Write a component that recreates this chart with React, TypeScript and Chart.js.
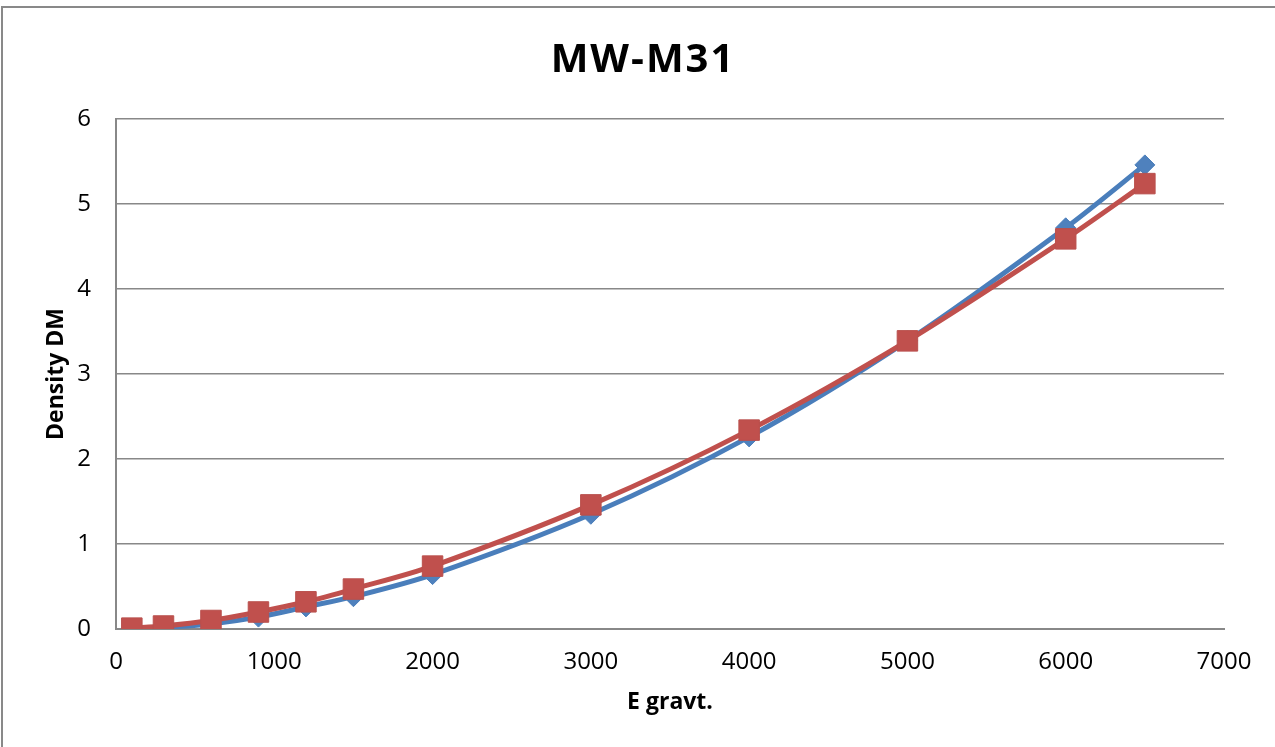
import React, { useEffect, useRef } from "react";
import { Chart, registerables } from "chart.js";
Chart.register(...registerables);

const chartTitle = "MW-M31";
const xAxisTitle = "E gravt.";
const yAxisTitle = "Density DM";
const energyX = [100, 300, 600, 900, 1200, 1500, 2000, 3000, 4000, 5000, 6000, 6500];
const blueSeries = [0.005, 0.02, 0.06, 0.14, 0.26, 0.38, 0.64, 1.35, 2.26, 3.39, 4.72, 5.46];
const redSeries = [0.01, 0.035, 0.1, 0.2, 0.32, 0.47, 0.74, 1.46, 2.34, 3.39, 4.59, 5.24];

export default function App() {
  const ref = useRef<HTMLCanvasElement>(null);
  useEffect(() => {
    if (!ref.current) return;
    const titlePlugin = {
      id: "mainTitle",
      afterDraw(chart: any) {
        const ctx = chart.ctx;
        ctx.save();
        ctx.font = 'bold 40px "Open Sans"';
        (ctx as any).letterSpacing = "2px";
        ctx.fillStyle = "#000";
        ctx.textAlign = "center";
        ctx.textBaseline = "alphabetic";
        ctx.fillText(chartTitle, 643, 72);
        ctx.restore();
      },
    };
    const chart = new Chart(ref.current, {
      type: "line",
      data: {
        datasets: [
          {
            label: "red",
            data: energyX.map((x, i) => ({ x, y: redSeries[i] })),
            borderColor: "#C0504D",
            backgroundColor: "#C0504D",
            borderWidth: 5,
            pointStyle: "rect",
            pointRadius: 14.5,
            pointBorderWidth: 1,
            pointBorderColor: "#B9504D",
            tension: 0.3,
            order: 0,
          },
          {
            label: "blue",
            data: energyX.map((x, i) => ({ x, y: blueSeries[i] })),
            borderColor: "#4A7EBB",
            backgroundColor: "#4F81BD",
            borderWidth: 5,
            pointStyle: "rectRot",
            pointRadius: 10,
            pointBorderWidth: 1,
            pointBorderColor: "#4A7EBB",
            tension: 0.3,
            order: 1,
          },
        ],
      },
      options: {
        animation: false,
        responsive: false,
        maintainAspectRatio: false,
        layout: { padding: { top: 119, right: 51, left: 0, bottom: 0 } },
        plugins: { legend: { display: false }, tooltip: { enabled: false }, title: { display: false } },
        scales: {
          x: {
            type: "linear",
            min: 0,
            max: 7000,
            ticks: { stepSize: 1000, color: "#000", font: { family: "Open Sans", size: 24 }, padding: 19, callback: (v: any) => String(v) },
            grid: { display: false, drawTicks: false },
            border: { display: true, color: "#888", width: 2 },
            title: { display: true, text: xAxisTitle, color: "#000", font: { family: "Open Sans", size: 23, weight: "bold" }, padding: { top: 0, bottom: 31 } },
            afterFit: (s: any) => { s.height = 118; },
          },
          y: {
            min: 0,
            max: 6,
            ticks: { stepSize: 1, color: "#000", font: { family: "Open Sans", size: 24 }, padding: 25, callback: (v: any) => String(v) },
            grid: { color: "#888", lineWidth: 1.5, drawTicks: false },
            border: { display: true, color: "#888", width: 2 },
            title: { display: true, text: yAxisTitle, color: "#000", font: { family: "Open Sans", size: 23, weight: "bold" }, padding: { top: 43, bottom: 0 } },
            afterFit: (s: any) => { s.width = 116; },
          },
        },
      },
      plugins: [titlePlugin],
    } as any);
    return () => chart.destroy();
  }, []);
  return (
    <div style={{ position: "fixed", left: 0, top: 0, width: 1275, height: 747, overflow: "hidden", background: "#fff" }}>
      <div style={{ position: "absolute", left: 1, top: 6, width: 1400, height: 900, borderTop: "2px solid #898989", borderLeft: "2px solid #898989" }} />
      <canvas ref={ref} width={1275} height={747} style={{ position: "absolute", left: 0, top: 0, width: 1275, height: 747 }} />
    </div>
  );
}
